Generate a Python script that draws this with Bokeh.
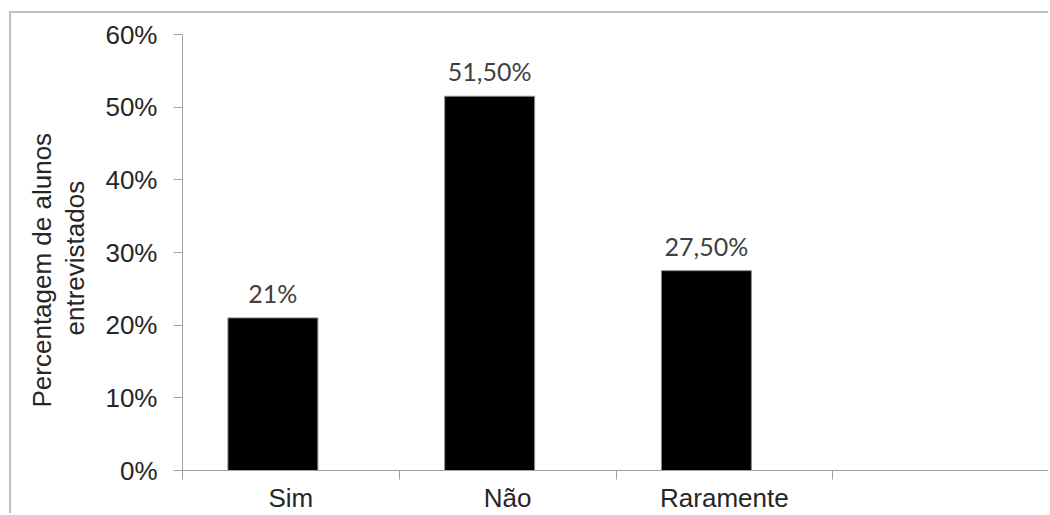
import math
from bokeh.plotting import figure
from bokeh.models import FixedTicker, PrintfTickFormatter, Title, ColumnDataSource, Range1d
from bokeh.core.properties import value
from bokeh.embed import file_html
from bokeh.resources import INLINE

categories = ["Sim", "Não", "Raramente", ""]
percent_values = [21, 51.5, 27.5]
value_labels = ["21%", "51,50%", "27,50%"]
y_ticks = [0, 10, 20, 30, 40, 50, 60]
y_title_lines = ["Percentagem de alunos", "entrevistados"]

bar_offset = -0.083
bar_width = 0.415

p = figure(width=1039, height=502, output_backend="svg", toolbar_location=None,
           x_range=Range1d(0, len(categories)), y_range=Range1d(0, 60),
           min_border_left=171, min_border_right=1, min_border_top=21, min_border_bottom=42)
p.margin = (11, 0, 0, 9)
p.styles = {"border-top": "2px solid #c0c0c0", "border-left": "2px solid #c0c0c0"}
p.outline_line_color = None
p.grid.visible = False
p.background_fill_color = "white"
p.border_fill_color = "white"

xs = [i + 0.5 + bar_offset for i in range(len(percent_values))]
src = ColumnDataSource(dict(x=xs, top=percent_values, lab=value_labels))
p.vbar(x="x", top="top", bottom=0, width=bar_width, source=src,
       fill_color="black", line_color="#8c8c8c", line_width=1)
p.text(x="x", y="top", text="lab", source=src, text_align="center", text_baseline="bottom",
       y_offset=-10, text_font=value("Lato"), text_font_size="25px", text_color="#404040")

axis_color = "#a0a0a0"
yax = p.yaxis[0]
yax.ticker = FixedTicker(ticks=y_ticks, minor_ticks=[])
yax.formatter = PrintfTickFormatter(format="%d%%")
yax.axis_line_color = axis_color
yax.major_tick_line_color = axis_color
yax.major_tick_out = 9
yax.major_tick_in = 0
yax.minor_tick_line_color = None
yax.major_label_standoff = 16
yax.major_label_text_font = "Liberation Sans"
yax.major_label_text_font_size = "26px"
yax.major_label_text_color = "#262626"
# invisible spacer label that widens the axis panel
yax.axis_label = " "
yax.axis_label_standoff = 9
yax.axis_label_text_font_size = "1px"

xax = p.xaxis[0]
centers = [i + 0.5 for i in range(len(categories))]
xax.ticker = FixedTicker(ticks=centers, minor_ticks=list(range(len(categories) + 1)))
xax.major_label_overrides = {c: lab for c, lab in zip(centers, categories)}
xax.axis_line_color = axis_color
xax.major_tick_line_color = None
xax.major_tick_out = 0
xax.major_tick_in = 0
xax.minor_tick_line_color = axis_color
xax.minor_tick_out = 9
xax.minor_tick_in = 0
xax.major_label_standoff = 3
xax.major_label_text_font = "Liberation Sans"
xax.major_label_text_font_size = "26px"
xax.major_label_text_color = "#262626"

# title lines stacked outward from the axis: second line first
for txt, off, so in zip(reversed(y_title_lines), [135, 63], [0, 1]):
    p.add_layout(Title(text=txt, align="left", offset=off, standoff=so,
                       text_font="Liberation Sans", text_font_size="26px",
                       text_font_style="normal", text_color="#262626"), "left")

open("out.html", "w").write(file_html(p, INLINE))
